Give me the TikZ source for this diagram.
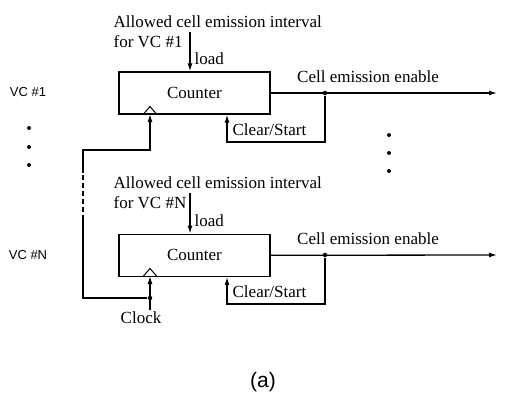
\documentclass[tikz,border=0pt]{standalone}
\usepackage{fontspec}
\setmainfont{Liberation Serif}
\setsansfont{Liberation Sans}
\usepackage{tikz}
\usetikzlibrary{arrows.meta, positioning}

\begin{document}
\begin{tikzpicture}[x=1pt, y=-1pt, line width=1.3pt, node distance=119pt,
    >={Latex[length=8pt,width=5pt]},
    counterbox/.style={rectangle, draw, minimum width=151pt, minimum height=42pt, inner sep=0pt},
    lbl/.style={font=\fontsize{17}{20}\selectfont, inner sep=1pt},
    vclbl/.style={font=\sffamily\fontsize{13}{15}\selectfont},
    jdot/.style={circle, fill, inner sep=0pt, minimum size=4.5pt}]
    \useasboundingbox (0,0) rectangle (515,397);

    % Counter for VC #1
    \node[counterbox, lbl] (counter1) at (194.5,93) {Counter};
    \node[lbl, align=left, anchor=west] (allow1) at (112,32) {Allowed cell emission interval\\for VC \#1};
    \coordinate (ld1) at (190,32);
    \draw[->] (ld1) -- (ld1 |- counter1.north) node[pos=0.68, right, xshift=3pt, lbl] {load};

    % Counter for VC #N
    \node[counterbox, lbl, below=of counter1] (counterN) {Counter};
    \node[lbl, align=left, anchor=west] (allowN) at (112,193) {Allowed cell emission interval\\for VC \#N};
    \coordinate (ldN) at (190,193);
    \draw[->] (ldN) -- (ldN |- counterN.north) node[pos=0.68, right, xshift=3pt, lbl] {load};

    % Clock inputs
    \coordinate (clk1) at (150,114);
    \coordinate (clkN) at (150,276);
    \foreach \c in {clk1, clkN}
        \draw[line width=1pt] ([xshift=-6.5pt]\c) -- ([yshift=7.5pt]\c) -- ([xshift=6.5pt]\c);
    \node[lbl] (clock) at (141,318) {Clock};
    \node[jdot] (cj) at (150,298) {};
    \draw[->] (clock.north -| clkN) -- (clkN);
    \coordinate (loopb) at (83,298);
    \coordinate (loopt) at (83,150);
    \draw (cj) -- (loopb) -- (83,220);
    \draw[dash pattern=on 5pt off 3pt] (83,220) -- (83,173);
    \draw[->] (83,173) -- (loopt) -- (loopt -| clk1) -- (clk1);

    % Outputs and Clear/Start feedback
    \foreach \n/\yy in {1/93, N/255} {
        \node[jdot] (j\n) at (325,\yy) {};
        \coordinate (out\n) at (497,\yy);
        \draw[->] (counter\n.east) -- (out\n);
        \node[lbl] (enable\n) at (368,\yy-16) {Cell emission enable};
        \coordinate (clr\n) at ([xshift=32.5pt]counter\n.south);
        \draw[->] (j\n) -- ++(0,49) -| (clr\n);
        \node[lbl, anchor=west] (clrlbl\n) at ([xshift=4pt,yshift=-15pt]clr\n) {Clear/Start};
    }

    % Labels and dots
    \node[vclbl] (vc1) at (28,92) {VC \#1};
    \node[vclbl] (vcN) at (28,255) {VC \#N};
    \foreach \yy in {128,147,165}
        \fill (29,\yy) circle (2pt);
    \foreach \yy in {135,153,171}
        \fill (389,\yy) circle (2pt);
    \node[font=\sffamily\fontsize{21}{24}\selectfont] (caption) at (263,382) {(a)};
\end{tikzpicture}
\end{document}
